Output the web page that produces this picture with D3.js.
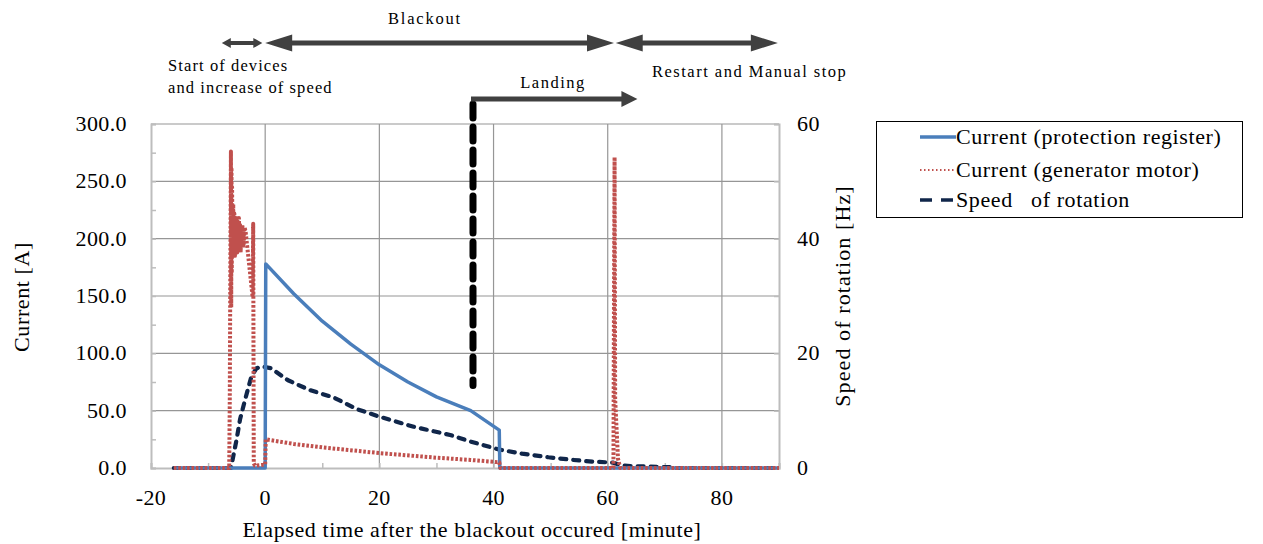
<!DOCTYPE html>
<html lang="en">
<head>
  <meta charset="UTF-8">
  <title>Current and speed of rotation after the blackout</title>
  <script src="https://d3js.org/d3.v7.min.js"></script>
  <style>
    body { margin: 0; background: #fff; }
    svg text { font-family: "Liberation Serif", "DejaVu Serif", "Times New Roman", serif; fill: #000; }
    .tick-label { font-size: 22px; letter-spacing: 0.4px; }
    .title { font-size: 22px; letter-spacing: 0.6px; }
    .note { font-size: 16.5px; letter-spacing: 1.1px; }
    .legend-text { font-size: 22px; letter-spacing: 0.6px; }
  </style>
</head>
<body>
  <div id="chart"></div>
  <script>
    const width = 1263;
    const height = 544;

    // Current (protection register) [A]
    const protTime    = [-16, 0, 0.1, 5, 10, 15, 20, 25, 30, 36, 41, 41.1, 90];
    const protCurrent = [0, 0, 178, 152, 128, 108, 90, 75, 62, 50, 33, 0, 0];

    // Current (generator motor) [A]
    const genTime = [-16, -6.3, -6.2, -6.1, -6.0, -5.95, -5.9, -5.85, -5.8, -5.7, -5.6, -5.5, -5.4,
      -5.3, -5.2, -5.1, -5.0, -4.9, -4.8, -4.7, -4.6, -4.5, -4.4, -4.3, -4.2, -4.1, -4.0, -3.9,
      -3.8, -3.7, -3.6, -3.4, -2.2, -2.1, -2.0, -1.8, 0, 0.1, 5, 10, 20, 30, 36, 41, 41.2,
      61, 61.1, 61.2, 61.3, 61.8, 62.2, 90];
    const genCurrent = [0, 0, 60, 180, 276, 140, 262, 170, 245, 185, 230, 190, 222,
      185, 218, 192, 220, 188, 215, 195, 218, 190, 212, 188, 210, 195, 212, 192,
      208, 196, 210, 205, 149, 213, 4, 2, 3, 25, 21, 18, 13, 9, 7, 5, 0,
      0, 150, 271, 60, 8, 0, 0];

    // Speed of rotation [Hz]
    const speedTime = [-16, -6, -5.5, -5, -4.4, -3.5, -2.4, -1.5, -0.5, 1, 4, 7.8, 12, 16, 20, 26,
      32.4, 36, 40.8, 45, 49.6, 54, 57.5, 61, 62.4, 64, 67.4, 70.9, 72, 90];
    const speedHz = [0, 0, 2.5, 5, 8.5, 12, 16, 17.4, 17.7, 17.4, 15.3, 13.6, 12.3, 10.3, 8.95, 7.2,
      5.76, 4.6, 3.26, 2.5, 1.87, 1.4, 1.1, 0.93, 0.45, 0.35, 0.23, 0.15, 0, 0];

    const xTicks = [-20, 0, 20, 40, 60, 80];
    const yLeftTicks = [0, 50, 100, 150, 200, 250, 300];
    const yRightTicks = [0, 20, 40, 60];

    // phases shown above the plot [minute]
    const startPhase = [-7.6, -0.5];
    const blackoutPhase = [0, 61.1];
    const restartPhase = [61.4, 89.8];
    const landingTime = 36.4;
    const landingArrowEnd = 65.2;
    const landingLineBottom = 72; // [A]

    const margin = { left: 151, right: 484, top: 124, bottom: 76 };
    const innerRight = width - margin.right;
    const innerBottom = height - margin.bottom;

    const svg = d3.select("#chart").append("svg")
      .attr("width", width)
      .attr("height", height);

    const x = d3.scaleLinear().domain([-20, 90]).range([margin.left, innerRight]);
    const yL = d3.scaleLinear().domain([0, 300]).range([innerBottom, margin.top]);
    const yR = d3.scaleLinear().domain([0, 60]).range([innerBottom, margin.top]);

    // grid
    const grid = svg.append("g").attr("stroke", "#969696").attr("stroke-width", 1.2);
    grid.selectAll(".gx").data(xTicks.filter(d => d > -20))
      .enter().append("line")
      .attr("x1", d => x(d)).attr("x2", d => x(d))
      .attr("y1", margin.top).attr("y2", innerBottom);
    grid.selectAll(".gy").data(yLeftTicks.filter(d => d > 0))
      .enter().append("line")
      .attr("x1", margin.left).attr("x2", innerRight)
      .attr("y1", d => yL(d)).attr("y2", d => yL(d));

    // axes with small inward ticks
    const axisCol = "#bdbdbd";
    const gLeft = svg.append("g").attr("transform", `translate(${margin.left},0)`)
      .call(d3.axisRight(yL).tickValues(d3.range(0, 301, 25)).tickSize(5).tickFormat(""));
    const gBottom = svg.append("g").attr("transform", `translate(0,${innerBottom})`)
      .call(d3.axisTop(x).tickValues(d3.range(-20, 91, 10)).tickSize(5).tickFormat(""));
    const gRight = svg.append("g").attr("transform", `translate(${innerRight},0)`)
      .call(d3.axisLeft(yR).tickValues(d3.range(0, 61, 10)).tickSize(5).tickFormat(""));
    [gLeft, gBottom, gRight].forEach(g => {
      g.select(".domain").attr("stroke", axisCol).attr("stroke-width", 2);
      g.selectAll(".tick line").attr("stroke", axisCol).attr("stroke-width", 1.5);
    });

    // tick labels
    svg.append("g").selectAll("text").data(yLeftTicks).enter().append("text")
      .attr("class", "tick-label")
      .attr("x", 127).attr("y", d => yL(d) + 7)
      .attr("text-anchor", "end")
      .text(d => d.toFixed(1));
    svg.append("g").selectAll("text").data(yRightTicks).enter().append("text")
      .attr("class", "tick-label")
      .attr("x", 797).attr("y", d => yR(d) + 7)
      .text(d => d);
    svg.append("g").selectAll("text").data(xTicks).enter().append("text")
      .attr("class", "tick-label")
      .attr("x", d => x(d)).attr("y", 505)
      .attr("text-anchor", "middle")
      .text(d => d);

    // axis titles
    svg.append("text").attr("class", "title")
      .attr("transform", "translate(29,297) rotate(-90)")
      .attr("text-anchor", "middle")
      .text("Current [A]");
    svg.append("text").attr("class", "title")
      .attr("transform", "translate(850,296) rotate(-90)")
      .attr("text-anchor", "middle")
      .style("letter-spacing", "1.1px")
      .text("Speed of rotation [Hz]");
    svg.append("text").attr("class", "title")
      .attr("x", 472).attr("y", 537)
      .attr("text-anchor", "middle")
      .text("Elapsed time after the blackout occured [minute]");

    // series
    const lineL = d3.line().x(d => x(d[0])).y(d => yL(d[1]));
    const lineR = d3.line().x(d => x(d[0])).y(d => yR(d[1]));

    const series = [
      { name: "Current (protection register)", pts: d3.zip(protTime, protCurrent), line: lineL,
        color: "#4a7ebb", w: 3.5, dash: null, cap: "butt" },
      { name: "Current (generator motor)", pts: d3.zip(genTime, genCurrent), line: lineL,
        color: "#c0504d", w: 4, dash: "2.6,1.8", cap: "butt" },
      { name: "Speed   of rotation", pts: d3.zip(speedTime, speedHz), line: lineR,
        color: "#10264a", w: 4.2, dash: "6,7", cap: "round" }
    ];

    // draw order: speed, protection, generator on top
    [series[2], series[0], series[1]].forEach(s => {
      svg.append("path")
        .attr("d", s.line(s.pts))
        .attr("fill", "none")
        .attr("stroke", s.color)
        .attr("stroke-width", s.w)
        .attr("stroke-dasharray", s.dash)
        .attr("stroke-linecap", s.cap)
        .attr("stroke-linejoin", "round");
    });

    // annotations
    const arrowCol = "#404040";
    function doubleArrow(x1, x2, y, headLen, headHalf, thick) {
      const t = thick / 2;
      const p = [
        [x1, y], [x1 + headLen, y - headHalf], [x1 + headLen, y - t],
        [x2 - headLen, y - t], [x2 - headLen, y - headHalf], [x2, y],
        [x2 - headLen, y + headHalf], [x2 - headLen, y + t],
        [x1 + headLen, y + t], [x1 + headLen, y + headHalf]
      ];
      svg.append("path").attr("d", d3.line()(p) + "Z").attr("fill", arrowCol);
    }
    doubleArrow(x(startPhase[0]), x(startPhase[1]), 43, 9, 5, 4);
    doubleArrow(x(blackoutPhase[0]), x(blackoutPhase[1]), 43, 27, 8.5, 5);
    doubleArrow(x(restartPhase[0]), x(restartPhase[1]), 43, 27, 8.5, 5);

    // landing marker
    svg.append("line")
      .attr("x1", x(landingTime)).attr("x2", x(landingTime))
      .attr("y1", 104).attr("y2", yL(landingLineBottom))
      .attr("stroke", "#000").attr("stroke-width", 7)
      .attr("stroke-dasharray", "14,9").attr("stroke-linecap", "round");
    const lx = x(landingTime) - 2, lx2 = x(landingArrowEnd), ly = 99;
    svg.append("path")
      .attr("d", d3.line()([[lx, ly - 2.5], [lx2 - 16, ly - 2.5], [lx2 - 16, ly - 8],
        [lx2, ly], [lx2 - 16, ly + 8], [lx2 - 16, ly + 2.5], [lx, ly + 2.5]]) + "Z")
      .attr("fill", arrowCol);

    svg.append("text").attr("class", "note").attr("x", x(28)).attr("y", 24)
      .attr("text-anchor", "middle").style("letter-spacing", "1.8px").text("Blackout");
    svg.append("text").attr("class", "note").attr("x", 168).attr("y", 71).text("Start of devices");
    svg.append("text").attr("class", "note").attr("x", 168).attr("y", 93).text("and increase of speed");
    svg.append("text").attr("class", "note").attr("x", 652).attr("y", 77)
      .style("letter-spacing", "1.5px").text("Restart and Manual stop");
    svg.append("text").attr("class", "note").attr("x", 553).attr("y", 88)
      .attr("text-anchor", "middle").style("letter-spacing", "1.5px").text("Landing");

    // legend
    const lg = svg.append("g");
    lg.append("rect").attr("x", 876.5).attr("y", 121.5).attr("width", 366).attr("height", 96)
      .attr("fill", "#fff").attr("stroke", "#000").attr("stroke-width", 1);
    const legendDash = [null, "1.5,2.5", "12,9"];
    series.forEach((s, i) => {
      const ly = [137, 170, 200][i];
      lg.append("line").attr("x1", 920).attr("x2", 956).attr("y1", ly).attr("y2", ly)
        .attr("stroke", s.color).attr("stroke-width", i === 1 ? 2 : 3.5)
        .attr("stroke-dasharray", legendDash[i]);
      lg.append("text").attr("class", "legend-text")
        .attr("x", 956).attr("y", ly + 7)
        .attr("xml:space", "preserve")
        .style("white-space", "pre")
        .text(s.name);
    });
  </script>
</body>
</html>
